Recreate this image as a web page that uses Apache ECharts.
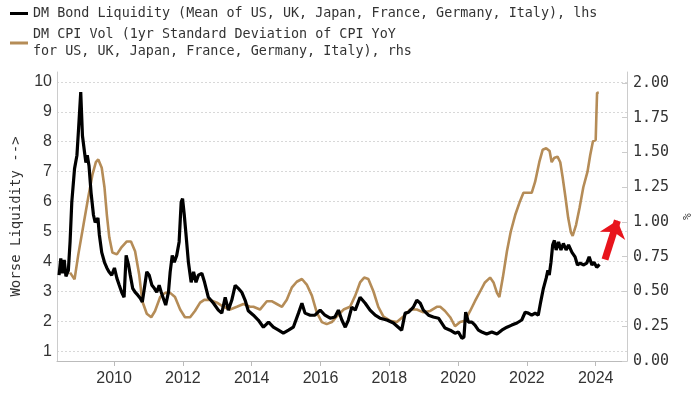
<!DOCTYPE html>
<html><head><meta charset="utf-8">
<script src="https://cdn.jsdelivr.net/npm/echarts@6/dist/echarts.min.js"></script>
<style>html,body{margin:0;padding:0;background:#fff}#c{width:700px;height:394px}</style>
</head><body><div id="c"></div>
<script>
// DM Bond Liquidity (lhs), decimal years
const liqYears = [2008.40,2008.45,2008.50,2008.55,2008.60,2008.67,2008.72,2008.77,2008.85,2008.92,2008.96,2009.03,2009.08,2009.14,2009.18,2009.22,2009.27,2009.33,2009.40,2009.45,2009.53,2009.57,2009.64,2009.72,2009.79,2009.85,2009.93,2010.01,2010.08,2010.15,2010.22,2010.29,2010.35,2010.42,2010.47,2010.54,2010.61,2010.69,2010.76,2010.82,2010.88,2010.95,2011.02,2011.10,2011.17,2011.24,2011.31,2011.37,2011.43,2011.50,2011.58,2011.63,2011.69,2011.75,2011.82,2011.89,2011.95,2011.99,2012.04,2012.09,2012.16,2012.24,2012.31,2012.38,2012.45,2012.55,2012.63,2012.74,2012.89,2013.03,2013.13,2013.23,2013.32,2013.42,2013.52,2013.61,2013.71,2013.81,2013.90,2014.05,2014.19,2014.34,2014.49,2014.63,2014.78,2014.92,2015.07,2015.21,2015.36,2015.46,2015.55,2015.70,2015.84,2015.99,2016.13,2016.28,2016.42,2016.52,2016.62,2016.72,2016.81,2016.91,2017.01,2017.15,2017.30,2017.44,2017.59,2017.73,2017.93,2018.12,2018.26,2018.36,2018.46,2018.56,2018.70,2018.80,2018.90,2018.99,2019.14,2019.28,2019.43,2019.62,2019.77,2019.91,2020.01,2020.11,2020.17,2020.22,2020.30,2020.40,2020.49,2020.59,2020.69,2020.83,2020.98,2021.13,2021.27,2021.42,2021.56,2021.71,2021.85,2021.95,2022.04,2022.14,2022.24,2022.33,2022.40,2022.48,2022.56,2022.61,2022.65,2022.70,2022.75,2022.80,2022.85,2022.92,2022.99,2023.06,2023.14,2023.21,2023.31,2023.40,2023.47,2023.55,2023.64,2023.74,2023.81,2023.89,2023.95,2024.03,2024.11];
const liqValues = [3.54,4.1,3.6,4.05,3.5,3.7,4.65,5.98,7.1,7.55,8.3,9.66,8.2,7.65,7.3,7.55,7.2,6.3,5.55,5.3,5.45,4.9,4.3,3.97,3.78,3.65,3.54,3.78,3.44,3.2,2.97,2.8,4.2,3.88,3.54,3.1,2.97,2.87,2.77,2.64,3.1,3.65,3.54,3.2,3.1,2.97,3.2,2.97,2.77,2.54,2.97,3.65,4.2,3.97,4.2,4.65,5.98,6.1,5.55,4.9,3.97,3.3,3.65,3.3,3.54,3.6,3.3,2.8,2.6,2.37,2.27,2.8,2.37,2.7,3.2,3.1,2.97,2.7,2.35,2.2,2.04,1.8,1.97,1.8,1.7,1.6,1.7,1.8,2.27,2.6,2.27,2.2,2.2,2.37,2.2,2.1,2.14,2.37,2.04,1.8,2.04,2.47,2.37,2.8,2.6,2.37,2.2,2.1,2.04,1.94,1.8,1.7,2.27,2.3,2.47,2.7,2.6,2.37,2.2,2.14,2.1,1.77,1.7,1.6,1.64,1.43,1.47,2.3,1.97,1.97,1.87,1.7,1.64,1.57,1.64,1.57,1.7,1.8,1.87,1.94,2.04,2.3,2.27,2.2,2.27,2.2,2.64,3.1,3.44,3.7,3.54,3.97,4.55,4.7,4.38,4.65,4.38,4.6,4.38,4.55,4.3,4.15,3.88,3.94,3.88,3.94,4.15,3.88,3.97,3.8,3.9];
// DM CPI Vol (rhs, %)
const cpiYears = [2008.72,2008.85,2008.96,2009.11,2009.25,2009.37,2009.47,2009.54,2009.64,2009.72,2009.79,2009.86,2009.95,2010.08,2010.22,2010.37,2010.49,2010.61,2010.73,2010.82,2010.95,2011.08,2011.19,2011.34,2011.48,2011.63,2011.77,2011.92,2012.06,2012.21,2012.35,2012.50,2012.62,2012.79,2012.99,2013.18,2013.37,2013.57,2013.76,2013.95,2014.05,2014.24,2014.44,2014.58,2014.73,2014.88,2015.02,2015.17,2015.31,2015.46,2015.60,2015.75,2015.89,2016.04,2016.18,2016.33,2016.47,2016.67,2016.86,2017.01,2017.15,2017.27,2017.39,2017.54,2017.68,2017.83,2018.02,2018.22,2018.41,2018.60,2018.80,2018.99,2019.19,2019.38,2019.48,2019.62,2019.77,2019.91,2020.06,2020.20,2020.35,2020.49,2020.64,2020.78,2020.93,2021.03,2021.13,2021.20,2021.30,2021.42,2021.53,2021.66,2021.80,2021.90,2022.01,2022.14,2022.24,2022.36,2022.46,2022.56,2022.66,2022.72,2022.79,2022.89,2022.97,2023.04,2023.12,2023.20,2023.28,2023.33,2023.43,2023.53,2023.64,2023.76,2023.84,2023.92,2024.00,2024.02,2024.04,2024.09];
const cpiValues = [0.636,0.587,0.767,0.98,1.18,1.34,1.43,1.45,1.39,1.25,1.05,0.89,0.78,0.767,0.82,0.86,0.86,0.79,0.62,0.43,0.34,0.315,0.36,0.46,0.49,0.49,0.46,0.37,0.315,0.315,0.36,0.42,0.44,0.44,0.42,0.39,0.37,0.39,0.41,0.39,0.39,0.37,0.43,0.43,0.41,0.39,0.44,0.53,0.57,0.59,0.55,0.47,0.35,0.28,0.265,0.28,0.32,0.37,0.39,0.47,0.565,0.60,0.59,0.50,0.39,0.32,0.29,0.28,0.32,0.37,0.37,0.35,0.36,0.39,0.39,0.36,0.315,0.25,0.28,0.29,0.36,0.43,0.50,0.565,0.60,0.565,0.49,0.46,0.60,0.79,0.93,1.05,1.15,1.21,1.21,1.21,1.29,1.43,1.52,1.53,1.51,1.43,1.46,1.47,1.43,1.32,1.18,1.03,0.925,0.90,0.98,1.10,1.25,1.36,1.48,1.58,1.59,1.77,1.93,1.93];

const xTickYears = [2010,2012,2014,2016,2018,2020,2022,2024];
const leftTicks = [1,2,3,4,5,6,7,8,9,10];
const rightTicks = [0,0.25,0.5,0.75,1,1.25,1.5,1.75,2];
const seriesNames = ['DM Bond Liquidity (Mean of US, UK, Japan, France, Germany, Italy), lhs',
  'DM CPI Vol (1yr Standard Deviation of CPI YoY\nfor US, UK, Japan, France, Germany, Italy), rhs'];
// annotation arrow in data coordinates (year, rhs %)
const arrowFrom = [2024.27, 0.73];
const arrowTo = [2024.63, 1.01];

const chart = echarts.init(document.getElementById('c'));
const mono = 'DejaVu Sans Mono';
const sans = 'Liberation Sans';
chart.setOption({
  animation: false,
  backgroundColor: '#fff',
  grid: {left: 57, right: 73, top: 72, bottom: 33},
  legend: {
    orient: 'vertical', left: 5, top: 0, itemGap: 4, itemWidth: 18, itemHeight: 3,
    icon: 'rect',
    textStyle: {fontFamily: mono, fontSize: 13.4, color: '#333', lineHeight: 17},
    data: [{name: seriesNames[0]}, {name: seriesNames[1]}]
  },
  xAxis: {
    type: 'value', min: 2008.34, max: 2024.91,
    axisLine: {lineStyle: {color: '#bbb'}},
    axisTick: {customValues: xTickYears, length: 5, lineStyle: {color: '#bbb'}},
    axisLabel: {customValues: xTickYears, fontFamily: sans, fontSize: 16, color: '#333', margin: 10,
      formatter: v => String(Math.round(v))},
    splitLine: {show: false}
  },
  yAxis: [{
    type: 'value', min: 0.67, max: 10.33, position: 'left',
    name: 'Worse Liquidity -->', nameLocation: 'middle', nameGap: 34, nameRotate: 90,
    nameTextStyle: {fontFamily: mono, fontSize: 14, color: '#333'},
    axisLine: {show: true, lineStyle: {color: '#ccc'}},
    axisTick: {show: false, customValues: leftTicks},
    axisLabel: {customValues: leftTicks, fontFamily: sans, fontSize: 16, color: '#333', margin: 5,
      formatter: v => String(Math.round(v))},
    splitLine: {show: true, lineStyle: {color: '#d8d8d8', type: [2, 2], width: 1}}
  }, {
    type: 'value', min: 0, max: 2.079, position: 'right',
    name: '%', nameLocation: 'middle', nameGap: 50, nameRotate: -90,
    nameTextStyle: {fontFamily: mono, fontSize: 11, color: '#333'},
    axisLine: {show: true, lineStyle: {color: '#ccc'}},
    axisTick: {show: true, inside: true, length: 5, customValues: rightTicks, lineStyle: {color: '#ccc'}},
    axisLabel: {customValues: rightTicks, fontFamily: mono, fontSize: 15, color: '#333', margin: 6,
      formatter: v => v.toFixed(2)},
    splitLine: {show: false}
  }],
  series: [{
    name: seriesNames[1], type: 'line', yAxisIndex: 1, showSymbol: false, symbol: 'none',
    color: '#b58c57',
    lineStyle: {color: '#b58c57', width: 2.6},
    data: cpiYears.map((y, i) => [y, cpiValues[i]]),
    markLine: {
      silent: true, symbol: ['none', 'arrow'], symbolSize: [20, 16],
      label: {show: false},
      lineStyle: {color: '#e8141c', width: 7, type: 'solid'},
      data: [[{coord: arrowFrom}, {coord: arrowTo}]]
    }
  }, {
    name: seriesNames[0], type: 'line', yAxisIndex: 0, showSymbol: false, symbol: 'none',
    color: '#000',
    lineStyle: {color: '#000', width: 3.2},
    data: liqYears.map((y, i) => [y, liqValues[i]])
  }]
});
</script>
</body></html>
